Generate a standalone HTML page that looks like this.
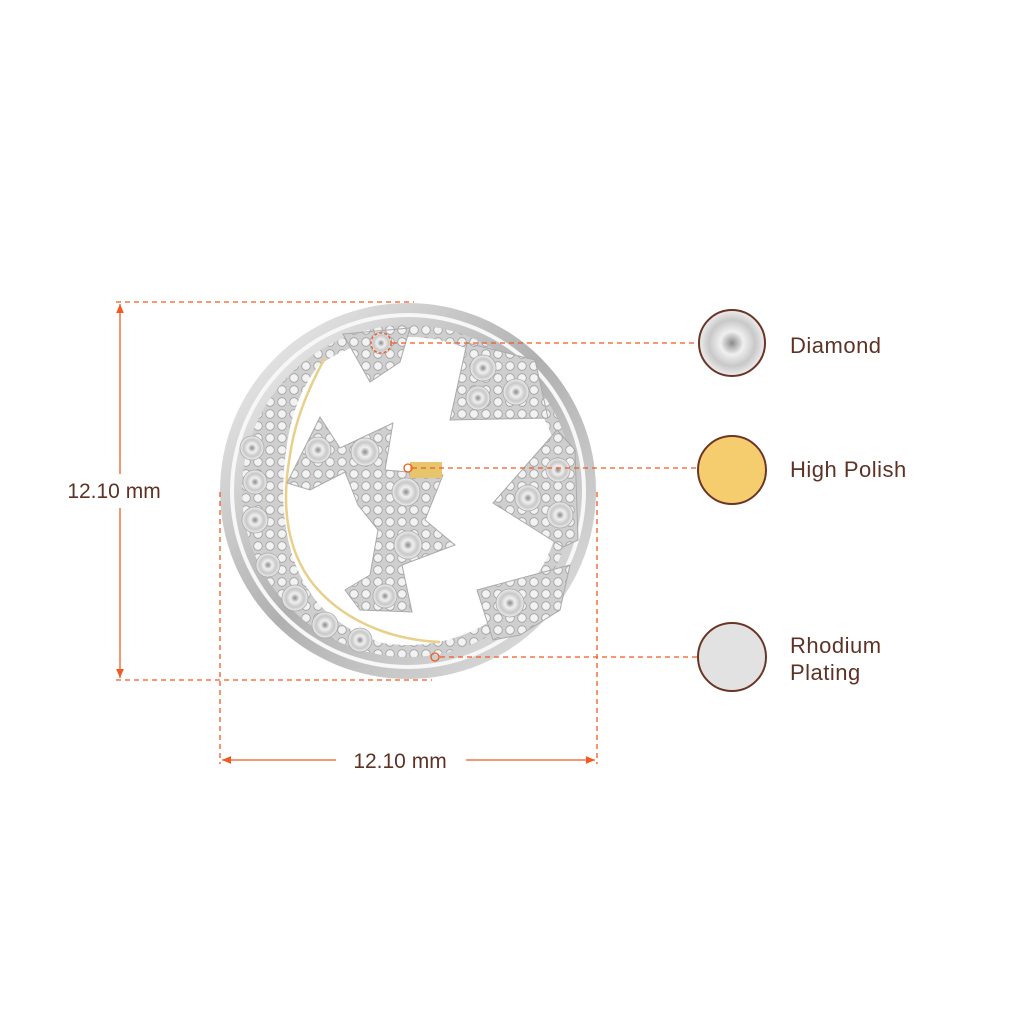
<!DOCTYPE html>
<html><head><style>
html,body{margin:0;padding:0;background:#fff;}
svg{display:block;}
text{font-family:"Liberation Sans",sans-serif;fill:#5e3326;}
</style></head><body>
<svg width="1024" height="1024" viewBox="0 0 1024 1024">
<defs>
<radialGradient id="dia" cx="50%" cy="50%" r="50%">
<stop offset="0" stop-color="#8a8a8a"/><stop offset="0.35" stop-color="#f0f0f0"/><stop offset="0.7" stop-color="#c8c8c8"/><stop offset="1" stop-color="#eeeeee"/>
</radialGradient>
<linearGradient id="rim" x1="0" y1="0" x2="1" y2="1">
<stop offset="0" stop-color="#f4f4f4"/><stop offset="0.5" stop-color="#b0b0b0"/><stop offset="1" stop-color="#e6e6e6"/>
</linearGradient>
<pattern id="pave" width="12" height="12" patternUnits="userSpaceOnUse">
<rect width="12" height="12" fill="#cfcfcf"/><circle cx="6" cy="6" r="4.3" fill="#f2f2f2" stroke="#a0a0a0" stroke-width="0.8"/>
</pattern>
<marker id="ar" markerWidth="8" markerHeight="8" refX="7" refY="4" orient="auto-start-reverse"><path d="M0,1 L7,4 L0,7 Z" fill="#f05a22"/></marker>
</defs>

<!-- earring -->
<circle cx="408" cy="491" r="188" fill="url(#rim)"/>
<circle cx="408" cy="491" r="178" fill="#f7f7f7"/>
<circle cx="408" cy="491" r="174" fill="url(#rim)"/>
<circle cx="408" cy="491" r="166" fill="url(#pave)"/>
<circle cx="408" cy="491" r="154" fill="#fff"/>
<!-- left crescent -->
<path d="M325,358 A154,154 0 0 0 440,642 L440,655 C400,650 360,640 330,615 C290,580 278,520 285,460 C290,410 305,380 325,358 Z" fill="url(#pave)"/>
<path d="M440,642 C390,640 340,620 310,580 C285,545 282,500 290,455 C295,420 310,385 325,358" fill="none" stroke="#e8cf8a" stroke-width="2.5"/>
<!-- triangles -->
<path d="M343,334 L410,328 L400,362 L370,382 Z" fill="url(#pave)" stroke="#aaa"/>
<path d="M467,343 L535,360 L548,418 L450,420 Z" fill="url(#pave)" stroke="#aaa"/>
<path d="M557,430 L575,450 L578,540 L563,547 L493,503 Z" fill="url(#pave)" stroke="#aaa"/>
<path d="M570,565 L560,610 L520,635 L493,640 L477,590 Z" fill="url(#pave)" stroke="#aaa"/>
<!-- petals -->
<path d="M287,483 L320,417 L340,448 L393,423 L385,470 L443,475 L425,520 L455,545 L402,565 L412,612 L360,610 L345,590 L370,575 L378,530 L358,505 L345,472 L310,490 Z" fill="url(#pave)" stroke="#aaa"/>
<path d="M410,462 L442,462 L442,478 L410,478 Z" fill="#e7c56c"/>
<!-- sparkly stones -->
<g fill="url(#dia)" stroke="#aaaaaa" stroke-width="0.8">
<circle cx="483" cy="368" r="13"/><circle cx="516" cy="392" r="13"/><circle cx="478" cy="398" r="12"/>
<circle cx="558" cy="470" r="12"/><circle cx="528" cy="498" r="13"/><circle cx="560" cy="515" r="13"/>
<circle cx="510" cy="603" r="14"/><circle cx="318" cy="450" r="13"/><circle cx="365" cy="452" r="14"/>
<circle cx="406" cy="492" r="14"/><circle cx="408" cy="545" r="14"/><circle cx="385" cy="596" r="12"/>
<circle cx="252" cy="448" r="12"/><circle cx="255" cy="482" r="12"/><circle cx="255" cy="520" r="13"/><circle cx="268" cy="565" r="12"/>
<circle cx="295" cy="598" r="13"/><circle cx="325" cy="625" r="13"/><circle cx="360" cy="640" r="12"/>
<circle cx="381" cy="343" r="11"/>
</g>

<!-- dimension lines -->
<g stroke="#f05a22" stroke-width="1.3" stroke-dasharray="5,4" fill="none">
<line x1="116" y1="302" x2="414" y2="302"/>
<line x1="116" y1="680" x2="432" y2="680"/>
<line x1="120" y1="304" x2="120" y2="678" marker-start="url(#ar)" marker-end="url(#ar)" stroke-dasharray="none"/>
<line x1="220" y1="492" x2="220" y2="764"/>
<line x1="597" y1="492" x2="597" y2="764"/>
<line x1="222" y1="760" x2="595" y2="760" marker-start="url(#ar)" marker-end="url(#ar)" stroke-dasharray="none"/>
<line x1="392" y1="343" x2="698" y2="343"/>
<line x1="412" y1="468" x2="698" y2="468"/>
<line x1="440" y1="657" x2="698" y2="657"/>
<circle cx="381" cy="343" r="10" stroke-dasharray="3,2"/>
<circle cx="408" cy="468" r="4" stroke-dasharray="none"/>
<circle cx="435" cy="657" r="4" stroke-dasharray="none"/>
</g>
<rect x="60" y="474" width="110" height="34" fill="#fff"/>
<text x="114" y="498" font-size="21" text-anchor="middle">12.10 mm</text>
<rect x="336" y="744" width="130" height="32" fill="#fff"/>
<text x="400" y="768" font-size="21" text-anchor="middle">12.10 mm</text>

<!-- legend -->
<circle cx="732" cy="343" r="33" fill="url(#dia)" stroke="#6b3526" stroke-width="2"/>
<circle cx="732" cy="470" r="34" fill="#f5cd6e" stroke="#6b3526" stroke-width="2"/>
<circle cx="732" cy="657" r="34" fill="#e2e2e2" stroke="#6b3526" stroke-width="2"/>
<text x="790" y="353" font-size="22" letter-spacing="0.5">Diamond</text>
<text x="790" y="477" font-size="22" letter-spacing="0.5">High Polish</text>
<text x="790" y="653" font-size="22" letter-spacing="0.5">Rhodium</text>
<text x="790" y="680" font-size="22" letter-spacing="0.5">Plating</text>
</svg>
</body></html>
